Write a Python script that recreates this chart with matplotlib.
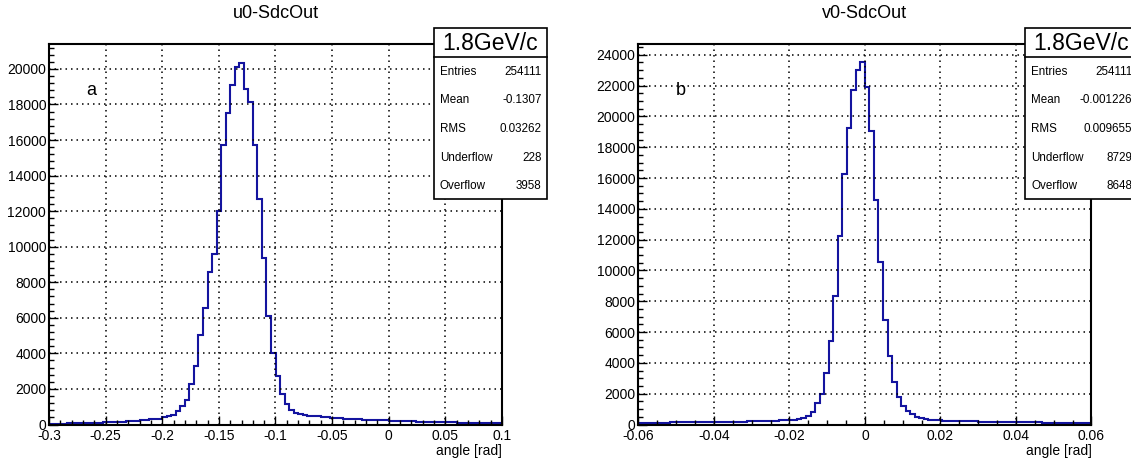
import numpy as np
import matplotlib
matplotlib.use("Agg")
import matplotlib.pyplot as plt
from matplotlib.patches import Rectangle
from matplotlib.ticker import MultipleLocator, FuncFormatter

plt.rcParams['font.family'] = ['Liberation Sans', 'DejaVu Sans']

# u0-SdcOut: 100 bins from -0.3 to 0.1
u0_range = (-0.3, 0.1)
u0_counts = [
    40, 45, 50, 55, 60, 65, 70, 75, 80, 90,
    100, 110, 120, 130, 140, 150, 165, 180, 195, 210,
    230, 245, 290, 300, 320, 420, 470, 560, 750, 1030,
    1370, 2300, 3300, 5050, 6550, 8560, 9570, 12000, 15740, 17510,
    19120, 20130, 20340, 18880, 18130, 15700, 12710, 9350, 6110, 4020,
    2750, 1740, 1180, 800, 650, 580, 540, 500, 470, 450,
    420, 400, 380, 360, 345, 330, 315, 300, 290, 280,
    265, 255, 245, 235, 225, 215, 205, 195, 185, 178,
    170, 162, 155, 148, 140, 135, 130, 125, 120, 115,
    110, 105, 100, 97, 94, 90, 87, 84, 82, 80,
]
u0_stats = [("Entries", "254111"), ("Mean", "-0.1307"), ("RMS", "0.03262"),
            ("Underflow", "228"), ("Overflow", "3958")]

# v0-SdcOut: 100 bins from -0.06 to 0.06
v0_range = (-0.06, 0.06)
v0_counts = [
    110, 115, 115, 120, 120, 125, 125, 130, 130, 135,
    135, 140, 140, 145, 150, 150, 155, 160, 165, 170,
    175, 180, 185, 190, 200, 205, 215, 225, 235, 250,
    255, 265, 275, 290, 300, 360, 450, 580, 840, 1385,
    1990, 3330, 5390, 8350, 12250, 16270, 19240, 21730, 22980, 23500,
    21890, 19030, 14590, 10520, 6790, 4470, 2750, 1810, 1230, 900,
    690, 515, 410, 340, 300, 280, 265, 250, 240, 230,
    222, 215, 208, 200, 195, 190, 185, 180, 175, 170,
    165, 160, 155, 150, 146, 142, 138, 134, 130, 126,
    123, 120, 117, 114, 111, 108, 105, 103, 101, 100,
]
v0_stats = [("Entries", "254111"), ("Mean", "-0.001226"), ("RMS", "0.009655"),
            ("Underflow", "8729"), ("Overflow", "8648")]

W, H = 1131, 463
fig = plt.figure(figsize=(W / 100, H / 100), dpi=100)
line_col = '#14149f'


def fx(px):
    return px / W


def fy(py):
    return 1 - py / H


def fmt(v, pos):
    s = f'{round(v, 5):g}'
    return '0' if s == '-0' else s


def panel(left_px, xr, counts, ymax, xmaj, xmin, ymin_step, title, tag, stats, box_left):
    ax = fig.add_axes([fx(left_px), fy(424.5), fx(453), 380.5 / H])
    edges = np.linspace(xr[0], xr[1], len(counts) + 1)
    ax.stairs(counts, edges, color=line_col, lw=1.5, baseline=None)
    ax.set_xlim(*xr)
    ax.set_ylim(0, ymax)
    ax.xaxis.set_major_locator(MultipleLocator(xmaj))
    ax.xaxis.set_minor_locator(MultipleLocator(xmin))
    ax.yaxis.set_major_locator(MultipleLocator(2000))
    ax.yaxis.set_minor_locator(MultipleLocator(ymin_step))
    ax.xaxis.set_major_formatter(FuncFormatter(fmt))
    ax.tick_params(which='both', direction='in', top=False, right=False,
                   labelsize=10, width=1, colors='black')
    ax.tick_params(which='major', length=6.5)
    ax.tick_params(which='minor', length=3.5)
    ax.tick_params(axis='x', pad=3)
    ax.tick_params(axis='y', pad=2)
    ax.grid(True, which='major', color='black', linestyle=(0, (1, 2.6)), lw=1.1)
    for s in ax.spines.values():
        s.set_linewidth(1.5)
    cx = left_px + 453 / 2
    fig.text(fx(cx), fy(13), title, ha='center', va='center', fontsize=13)
    fig.text(fx(left_px + 453), fy(451), 'angle [rad]', ha='right', va='center', fontsize=10)
    fig.text(fx(left_px + 42), fy(91), tag, ha='center', va='center', fontsize=13)

    # stats box
    bw = 113.5
    box = Rectangle((fx(box_left), fy(199.3)), fx(bw), (199.3 - 28.3) / H,
                    transform=fig.transFigure, facecolor='white', edgecolor='black',
                    lw=1.2, zorder=5)
    fig.add_artist(box)
    fig.add_artist(plt.Line2D([fx(box_left), fx(box_left + bw)], [fy(56.7), fy(56.7)],
                              transform=fig.transFigure, color='black', lw=1.2, zorder=6))
    fig.text(fx(box_left + bw / 2), fy(43), '1.8GeV/c', ha='center', va='center',
             fontsize=16.5, zorder=7)
    rows = [71.7, 100, 129, 157.7, 186]
    for (name, val), ry in zip(stats, rows):
        fig.text(fx(box_left + 6.5), fy(ry), name, ha='left', va='center', fontsize=8.4, zorder=7)
        fig.text(fx(box_left + 108), fy(ry), val, ha='right', va='center', fontsize=8.4, zorder=7)
    return ax


panel(49, u0_range, u0_counts, 21400, 0.05, 0.01, 400, 'u0-SdcOut', 'a', u0_stats, 433.5)
panel(638.4, v0_range, v0_counts, 24700, 0.02, 0.005, 500, 'v0-SdcOut', 'b', v0_stats, 1024.5)

fig.savefig('out.png', dpi=100)
